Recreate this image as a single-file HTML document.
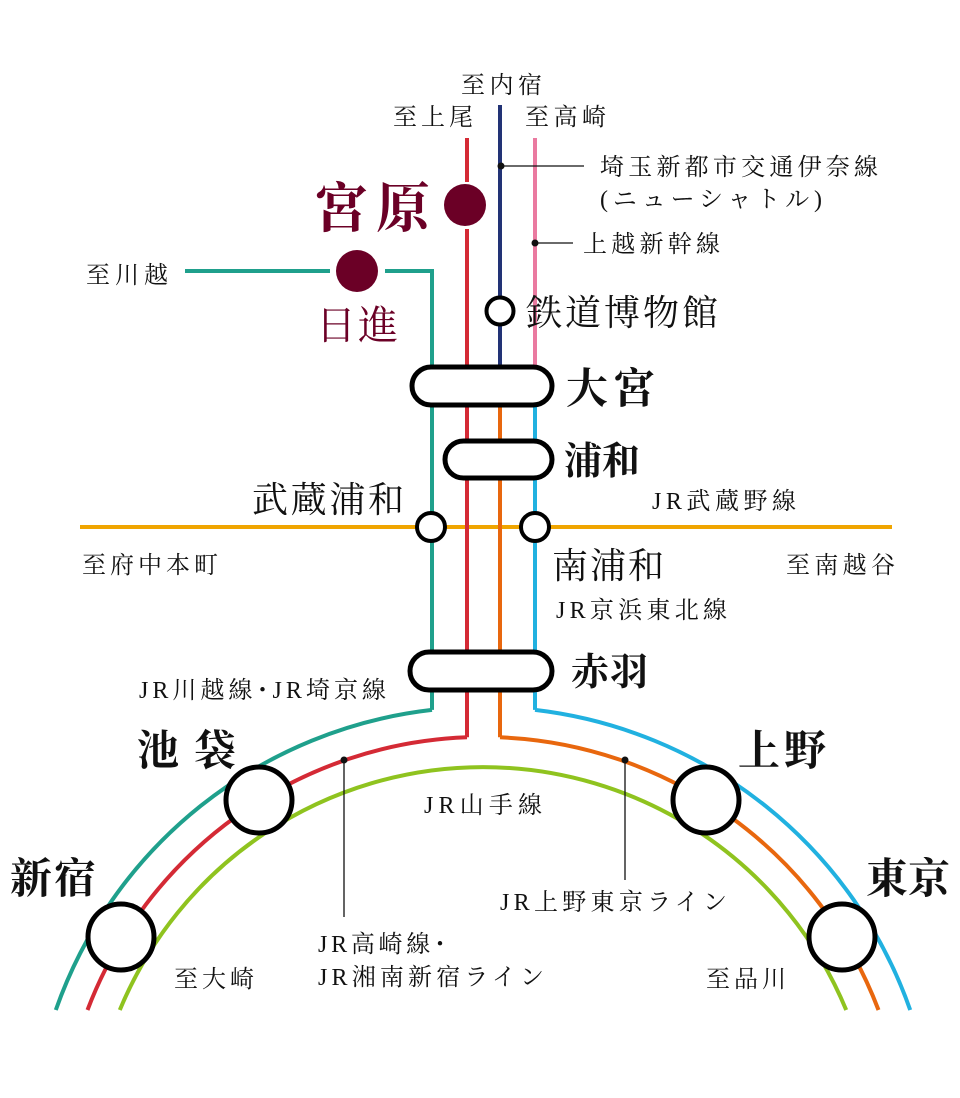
<!DOCTYPE html>
<html><head><meta charset="utf-8"><style>
html,body{margin:0;padding:0;background:#fff;}
svg{display:block;}
text{font-family:"Liberation Serif","Noto Serif CJK SC","Noto Serif CJK JP",serif;fill:#111;}
</style></head><body>
<svg width="960" height="1098" viewBox="0 0 960 1098" xmlns="http://www.w3.org/2000/svg">
<g fill="none" stroke-width="4">
<line x1="80" y1="527" x2="892" y2="527" stroke="#f0a500"/>
<path d="M185,271 H330 M385,271 H432 V709.9" stroke="#1fa08c"/>
<path d="M55.8,1010 A453,453 0 0 1 432,709.9" stroke="#1fa08c"/>
<path d="M467,138 V182 M467,229 V737.3" stroke="#d42a35"/>
<path d="M87.5,1010 A423,423 0 0 1 467,737.3" stroke="#d42a35"/>
<line x1="500" y1="105" x2="500" y2="380" stroke="#223375"/>
<path d="M500,400 V737.3" stroke="#e8670e"/>
<path d="M878.5,1010 A423,423 0 0 0 500,737.3" stroke="#e8670e"/>
<line x1="535" y1="138" x2="535" y2="380" stroke="#ea7aa0"/>
<path d="M535,400 V709.9" stroke="#21b1e0"/>
<path d="M910.2,1010 A453,453 0 0 0 535,709.9" stroke="#21b1e0"/>
<path d="M119.8,1010 A393,393 0 0 1 846.2,1010" stroke="#8fc31f"/>
</g>
<g stroke="#111" stroke-width="1.3">
<line x1="501" y1="166" x2="584" y2="166"/>
<line x1="535" y1="243" x2="573" y2="243"/>
<line x1="344" y1="760" x2="344" y2="917"/>
<line x1="625" y1="760" x2="625" y2="880"/>
</g>
<g fill="#111">
<circle cx="501" cy="166" r="3.5"/><circle cx="535" cy="243" r="3.5"/>
<circle cx="344" cy="760" r="3.5"/><circle cx="625" cy="760" r="3.5"/>
</g>
<circle cx="465" cy="205" r="21" fill="#6b0026"/>
<circle cx="357" cy="271" r="21" fill="#6b0026"/>
<g fill="#fff" stroke="#000" stroke-width="5">
<rect x="412" y="367" width="140" height="38" rx="19"/>
<rect x="445" y="441" width="107" height="37" rx="18.5"/>
<rect x="410" y="652" width="142" height="38" rx="19"/>
<circle cx="500" cy="311" r="13.5" stroke-width="4"/>
<circle cx="431" cy="527" r="14" stroke-width="4"/>
<circle cx="535" cy="527" r="14" stroke-width="4"/>
<circle cx="259" cy="800" r="33"/>
<circle cx="121" cy="937" r="33"/>
<circle cx="706" cy="800" r="33"/>
<circle cx="842" cy="937" r="33"/>
</g>
<g font-size="24" lengthAdjust="spacing">
<text x="461" y="93" textLength="81">至内宿</text>
<text x="393" y="125" textLength="80">至上尾</text>
<text x="525" y="125" textLength="81">至高崎</text>
<text x="600" y="175" textLength="278">埼玉新都市交通伊奈線</text>
<text x="600" y="207" textLength="222">(ニューシャトル)</text>
<text x="583" y="252" textLength="137">上越新幹線</text>
<text x="86" y="283" textLength="82">至川越</text>
<text x="652" y="509" textLength="144">JR武蔵野線</text>
<text x="82" y="573" textLength="136">至府中本町</text>
<text x="786" y="573" textLength="109">至南越谷</text>
<text x="556" y="618" textLength="171">JR京浜東北線</text>
<text x="139" y="698" textLength="247">JR川越線･JR埼京線</text>
<text x="424" y="813" textLength="118">JR山手線</text>
<text x="500" y="910" textLength="227">JR上野東京ライン</text>
<text x="318" y="952" textLength="128">JR高崎線･</text>
<text x="318" y="985" textLength="226">JR湘南新宿ライン</text>
<text x="174" y="987" textLength="80">至大崎</text>
<text x="706" y="987" textLength="80">至品川</text>
</g>
<g font-size="42" font-weight="bold" lengthAdjust="spacing">
<text x="566" y="403" textLength="89">大宮</text>
<text x="564" y="474" font-size="38" textLength="76">浦和</text>
<text x="571" y="685" font-size="38" textLength="77">赤羽</text>
<text x="137" y="765" textLength="99">池袋</text>
<text x="738" y="765" textLength="88">上野</text>
<text x="10" y="893" textLength="86">新宿</text>
<text x="866" y="893" textLength="84">東京</text>
</g>
<g font-size="36" lengthAdjust="spacing">
<text x="526" y="325" textLength="192">鉄道博物館</text>
<text x="252" y="512" textLength="152">武蔵浦和</text>
<text x="552" y="578" textLength="112">南浦和</text>
</g>
<text x="314" y="227" font-size="54" font-weight="bold" textLength="116" lengthAdjust="spacing" style="fill:#6b0026">宮原</text>
<text x="316" y="339" font-size="40" textLength="82" lengthAdjust="spacing" style="fill:#6b0026">日進</text>
</svg>
</body></html>
